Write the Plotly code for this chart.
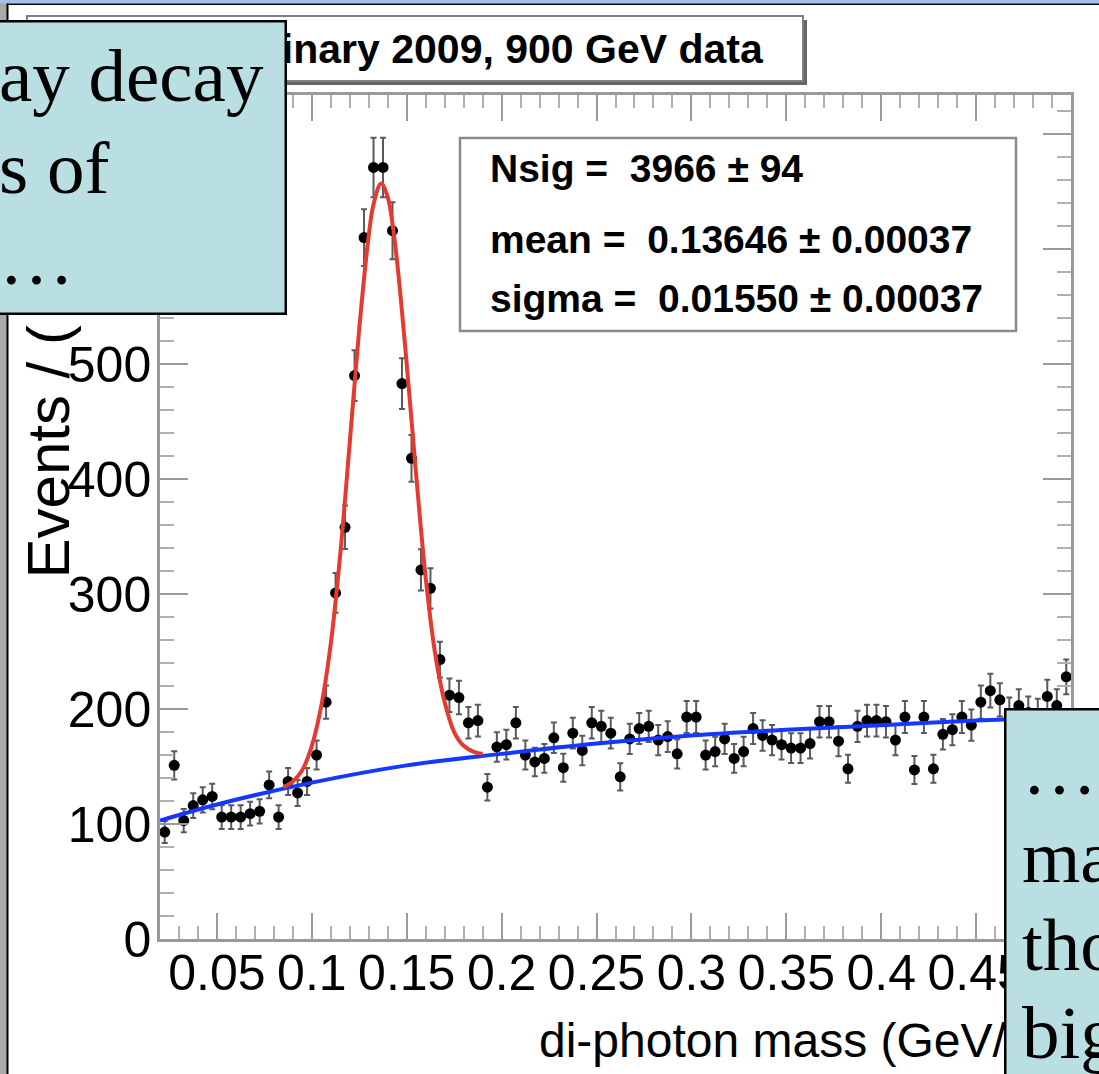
import plotly.graph_objects as go

# ---------------- data ----------------
bin_centers = [
    0.0225, 0.0275, 0.0325, 0.0375, 0.0425, 0.0475, 0.0525, 0.0575, 0.0625, 0.0675,
    0.0725, 0.0775, 0.0825, 0.0875, 0.0925, 0.0975, 0.1025, 0.1075, 0.1125, 0.1175,
    0.1225, 0.1275, 0.1325, 0.1375, 0.1425, 0.1475, 0.1525, 0.1575, 0.1625, 0.1675,
    0.1725, 0.1775, 0.1825, 0.1875, 0.1925, 0.1975, 0.2025, 0.2075, 0.2125, 0.2175,
    0.2225, 0.2275, 0.2325, 0.2375, 0.2425, 0.2475, 0.2525, 0.2575, 0.2625, 0.2675,
    0.2725, 0.2775, 0.2825, 0.2875, 0.2925, 0.2975, 0.3025, 0.3075, 0.3125, 0.3175,
    0.3225, 0.3275, 0.3325, 0.3375, 0.3425, 0.3475, 0.3525, 0.3575, 0.3625, 0.3675,
    0.3725, 0.3775, 0.3825, 0.3875, 0.3925, 0.3975, 0.4025, 0.4075, 0.4125, 0.4175,
    0.4225, 0.4275, 0.4325, 0.4375, 0.4425, 0.4475, 0.4525, 0.4575, 0.4625, 0.4675,
    0.4725, 0.4775, 0.4825, 0.4875, 0.4925, 0.4975,
]
counts = [
    93, 151, 103, 116, 121, 124, 106, 106, 106, 109,
    111, 134, 106, 137, 127, 137, 160, 206, 301, 358,
    490, 610, 671, 671, 616, 483, 418, 321, 305, 243,
    212, 210, 188, 190, 132, 167, 169, 188, 160, 154,
    157, 175, 149, 179, 164, 188, 185, 179, 141, 174,
    183, 185, 173, 176, 161, 193, 193, 160, 163, 174,
    157, 163, 183, 177, 173, 169, 166, 166, 170, 189,
    189, 172, 148, 185, 190, 190, 189, 173, 193, 147,
    193, 148, 178, 182, 193, 186, 206, 216, 208, 196,
    203, 197, 195, 211, 203, 228,
]
errors = [
    9.6, 12.3, 10.1, 10.8, 11.0, 11.1, 10.3, 10.3, 10.3, 10.4,
    10.5, 11.6, 10.3, 11.7, 11.3, 11.7, 12.6, 14.4, 17.3, 18.9,
    22.1, 24.7, 25.9, 25.9, 24.8, 22.0, 20.4, 17.9, 17.5, 15.6,
    14.6, 14.5, 13.7, 13.8, 11.5, 12.9, 13.0, 13.7, 12.6, 12.4,
    12.5, 13.2, 12.2, 13.4, 12.8, 13.7, 13.6, 13.4, 11.9, 13.2,
    13.5, 13.6, 13.2, 13.3, 12.7, 13.9, 13.9, 12.6, 12.8, 13.2,
    12.5, 12.8, 13.5, 13.3, 13.2, 13.0, 12.9, 12.9, 13.0, 13.7,
    13.7, 13.1, 12.2, 13.6, 13.8, 13.8, 13.7, 13.2, 13.9, 12.1,
    13.9, 12.2, 13.3, 13.5, 13.9, 13.6, 14.4, 14.7, 14.4, 14.0,
    14.2, 14.0, 14.0, 14.5, 14.2, 15.1,
]

# background (blue) curve
bkg_x = [0.02, 0.05, 0.10, 0.15, 0.20, 0.25, 0.30, 0.35, 0.40, 0.45, 0.50]
bkg_y = [103, 117, 136, 151, 161, 170, 177, 182, 186, 190, 193]

# signal + background (red) curve
fit_x = [0.085, 0.090, 0.095, 0.100, 0.105, 0.110, 0.115, 0.120, 0.125, 0.130,
         0.1325, 0.1365, 0.140, 0.1425, 0.145, 0.150, 0.155, 0.160, 0.165, 0.170,
         0.175, 0.180, 0.185, 0.190]
fit_y = [132, 137, 147, 168, 203, 257, 335, 432, 531, 612,
         639, 657, 645, 622, 588, 500, 403, 314, 248, 206,
         180, 168, 163, 161]

x_tick_vals = [0.05, 0.10, 0.15, 0.20, 0.25, 0.30, 0.35, 0.40, 0.45, 0.50]
x_tick_text = ["0.05", "0.1", "0.15", "0.2", "0.25", "0.3", "0.35", "0.4", "0.45", "0.5"]
y_tick_vals = [0, 100, 200, 300, 400, 500, 600, 700]
y_tick_text = ["0", "100", "200", "300", "400", "500", "600", "700"]

header_text = "CMS Preliminary 2009, 900 GeV data"
stat_lines = ["Nsig =  3966 \u00b1 94",
              "mean =  0.13646 \u00b1 0.00037",
              "sigma =  0.01550 \u00b1 0.00037"]
x_title = "di-photon mass (GeV/c<sup>2</sup>)"
y_title = "Events / ( 0.005 )"
callout_tl_lines = ["ay decay", "s of", "\u2026"]
callout_br_lines = ["\u2026", "ma", "tho", "big"]

# ---------------- layout geometry (pixels) ----------------
W, H = 1099, 1074
PL, PR, PT, PB = 160, 1071, 95, 939


def px(xp):
    return (xp - PL) / (PR - PL)


def py(yp):
    return (PB - yp) / (PB - PT)


SANS = "Arial, Liberation Sans, Helvetica, sans-serif"
SERIF = "Times New Roman, Liberation Serif, serif"
AXC = "#9a9a9a"
CALLOUT = "#b9dfe3"

fig = go.Figure()
fig.add_trace(go.Scatter(
    x=bin_centers, y=counts, mode="markers",
    marker=dict(color="black", size=11),
    error_y=dict(type="data", array=errors, color="#5a5a5a", thickness=2, width=3),
    hoverinfo="skip"))
fig.add_trace(go.Scatter(
    x=bkg_x, y=bkg_y, mode="lines",
    line=dict(color="#1438ff", width=4, shape="spline"), hoverinfo="skip"))
fig.add_trace(go.Scatter(
    x=fit_x, y=fit_y, mode="lines",
    line=dict(color="#e53a2f", width=4, shape="spline"), hoverinfo="skip"))

shapes = []
# slide frame decorations
shapes.append(dict(type="rect", xref="paper", yref="paper", x0=px(0), x1=px(7), y0=py(0), y1=py(H),
                   fillcolor="#a8a8a8", line=dict(width=0), layer="above"))
shapes.append(dict(type="rect", xref="paper", yref="paper", x0=px(0), x1=px(W), y0=py(0), y1=py(3.5),
                   fillcolor="#a6bfe6", line=dict(width=0), layer="above"))
shapes.append(dict(type="line", xref="paper", yref="paper", x0=px(7.5), x1=px(7.5), y0=py(3.5), y1=py(H),
                   line=dict(color="black", width=2), layer="above"))
shapes.append(dict(type="line", xref="paper", yref="paper", x0=px(7), x1=px(W), y0=py(4.2), y1=py(4.2),
                   line=dict(color="black", width=1.6), layer="above"))
# header box with shadow
shapes.append(dict(type="rect", xref="paper", yref="paper", x0=px(31), x1=px(807), y0=py(20), y1=py(85),
                   fillcolor="#666666", line=dict(width=0), layer="above"))
shapes.append(dict(type="rect", xref="paper", yref="paper", x0=px(27), x1=px(803), y0=py(16), y1=py(81),
                   fillcolor="white", line=dict(color="#808080", width=2), layer="above"))
# stats box
shapes.append(dict(type="rect", xref="paper", yref="paper", x0=px(460), x1=px(1016), y0=py(138), y1=py(331),
                   fillcolor="white", line=dict(color="#8c8c8c", width=2.5), layer="above"))
fig.update_layout(shapes=shapes)

ann = []
ann.append(dict(text=y_title, xref="paper", yref="paper", x=px(48), y=py(120),
                xanchor="center", yanchor="top", textangle=-90, showarrow=False,
                font=dict(family=SANS, size=60, color="black")))
ann.append(dict(text=x_title, xref="paper", yref="paper", x=px(1067), y=py(1037),
                xanchor="right", yanchor="middle", showarrow=False,
                font=dict(family=SANS, size=48, color="black")))
ann.append(dict(text="<b>" + header_text + "</b>", xref="paper", yref="paper", x=px(766), y=py(49),
                xanchor="right", yanchor="middle", showarrow=False,
                font=dict(family=SANS, size=41, color="black")))
for line, yc in zip(stat_lines, [168, 239, 298]):
    ann.append(dict(text="<b>" + line + "</b>", xref="paper", yref="paper", x=px(488), y=py(yc),
                    xanchor="left", yanchor="middle", showarrow=False,
                    font=dict(family=SANS, size=39, color="black")))
# top-left callout
ann.append(dict(text=" ", xref="paper", yref="paper", x=px(287), y=py(20),
                xanchor="right", yanchor="top", showarrow=False, width=292, height=290,
                bgcolor=CALLOUT, bordercolor="black", borderwidth=2.5, borderpad=0))
for line, yc in zip(callout_tl_lines, [76, 167, 258]):
    ann.append(dict(text=line, xref="paper", yref="paper", x=px(-3), y=py(yc),
                    xanchor="left", yanchor="middle", align="left", showarrow=False,
                    font=dict(family=SERIF, size=75, color="black")))
# bottom-right callout
ann.append(dict(text=" ", xref="paper", yref="paper", x=px(1004), y=py(708),
                xanchor="left", yanchor="top", showarrow=False, width=120, height=400,
                bgcolor=CALLOUT, bordercolor="black", borderwidth=2.5, borderpad=0))
for line, yc in zip(callout_br_lines, [768, 856, 944, 1032]):
    ann.append(dict(text=line, xref="paper", yref="paper", x=px(1020), y=py(yc),
                    xanchor="left", yanchor="middle", align="left", showarrow=False,
                    font=dict(family=SERIF, size=75, color="black")))
fig.update_layout(annotations=ann)

fig.update_layout(
    width=W, height=H, autosize=False,
    margin=dict(l=PL, r=W - PR, t=PT, b=H - PB, pad=0),
    paper_bgcolor="white", plot_bgcolor="white", showlegend=False,
    xaxis=dict(range=[0.02, 0.5], showline=True, linecolor=AXC, linewidth=2.5, mirror="ticks",
               ticks="inside", ticklen=26, tickwidth=2, tickcolor=AXC,
               tickmode="array", tickvals=x_tick_vals, ticktext=x_tick_text, tickangle=0,
               tickfont=dict(family=SANS, size=50, color="black"), ticklabelstandoff=-12,
               showgrid=False, zeroline=False,
               minor=dict(tickmode="linear", tick0=0, dtick=0.01, ticks="inside",
                          ticklen=13, tickwidth=2, tickcolor="#b0b0b0", showgrid=False)),
    yaxis=dict(range=[0, 734], showline=True, linecolor=AXC, linewidth=2.5, mirror="ticks",
               ticks="inside", ticklen=28, tickwidth=2, tickcolor=AXC,
               tickmode="array", tickvals=y_tick_vals, ticktext=y_tick_text,
               tickfont=dict(family=SANS, size=50, color="black"), ticklabelstandoff=-4,
               showgrid=False, zeroline=False,
               minor=dict(tickmode="linear", tick0=0, dtick=20, ticks="inside",
                          ticklen=14, tickwidth=2, tickcolor="#b0b0b0", showgrid=False)),
)

fig.write_html("out.html")
